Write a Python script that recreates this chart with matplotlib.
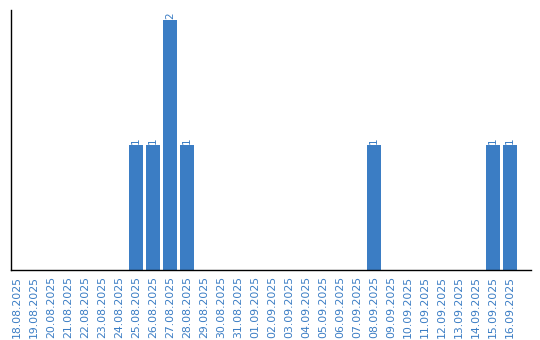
import matplotlib.pyplot as plt

# daily counts, 18.08.2025 - 16.09.2025
dates = ['18.08.2025', '19.08.2025', '20.08.2025', '21.08.2025', '22.08.2025',
         '23.08.2025', '24.08.2025', '25.08.2025', '26.08.2025', '27.08.2025',
         '28.08.2025', '29.08.2025', '30.08.2025', '31.08.2025', '01.09.2025',
         '02.09.2025', '03.09.2025', '04.09.2025', '05.09.2025', '06.09.2025',
         '07.09.2025', '08.09.2025', '09.09.2025', '10.09.2025', '11.09.2025',
         '12.09.2025', '13.09.2025', '14.09.2025', '15.09.2025', '16.09.2025']
counts = [0, 0, 0, 0, 0, 0, 0, 1, 1, 2,
          1, 0, 0, 0, 0, 0, 0, 0, 0, 0,
          0, 1, 0, 0, 0, 0, 0, 0, 1, 1]

blue = '#3b7dc4'

fig = plt.figure(figsize=(5.4, 3.4), dpi=100)
ax = fig.add_axes([11 / 540, 70 / 340, 520 / 540, 260 / 340])

x = list(range(len(dates)))
bars = ax.bar(x, counts, width=0.82, color=blue)

# value labels above the non-empty bars
for xi, c in zip(x, counts):
    if c > 0:
        ax.text(xi, c + 0.01, str(c), rotation=90, ha='center', va='bottom',
                fontsize=7.5, color=blue)

ax.set_xlim(-0.35, 30.24)
ax.set_ylim(0, 2.08)
ax.set_xticks(x)
ax.set_xticklabels(dates, rotation=90, fontsize=7.8, color=blue)
ax.set_yticks([])
ax.tick_params(axis='x', length=0, pad=4)
ax.spines['top'].set_visible(False)
ax.spines['right'].set_visible(False)
ax.spines['left'].set_linewidth(1.0)
ax.spines['bottom'].set_linewidth(1.0)

fig.savefig('out.png', dpi=100)
